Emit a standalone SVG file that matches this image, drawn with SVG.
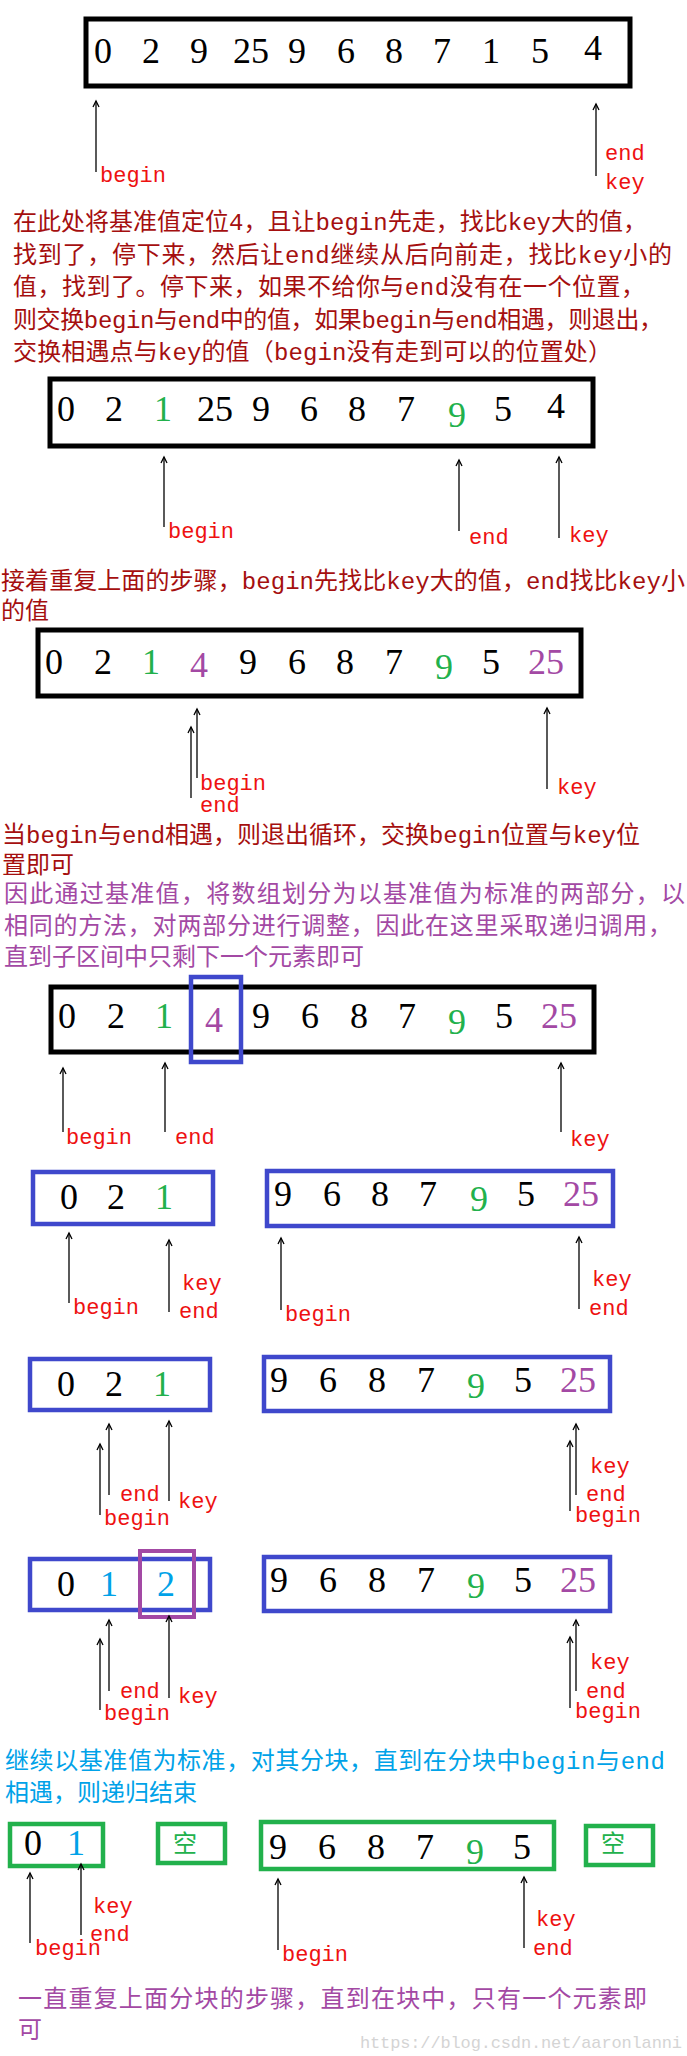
<svg xmlns="http://www.w3.org/2000/svg" width="687" height="2056" viewBox="0 0 687 2056">
<style>
.n{font-family:"Liberation Serif",serif;font-size:36px;text-anchor:middle;fill:#000}
.g{fill:#22b14c}.p{fill:#a349a4}.c{fill:#00a2e8}
.l{font-family:"Liberation Mono",monospace;font-size:22px;fill:#ee1111}
.t{font-family:"Liberation Mono","Noto Sans CJK SC",sans-serif;font-size:24px}
.dr{fill:#a50f0f}.pt{fill:#a349a4}.ct{fill:#00a2e8}
.bk{fill:#fff;stroke:#000;stroke-width:5}
.bl{fill:none;stroke:#3f48cc;stroke-width:4.5}
.gr{fill:none;stroke:#22b14c;stroke-width:4.5}
.pr{fill:none;stroke:#a349a4;stroke-width:4}
.a{stroke:#000;stroke-width:1.3;fill:none;marker-end:url(#h)}
</style>
<defs><marker id="h" markerUnits="userSpaceOnUse" markerWidth="12" markerHeight="12" refX="10" refY="6" orient="auto" viewBox="0 0 12 12"><path d="M4,3 L10,6 L4,9" fill="none" stroke="#000" stroke-width="1.3"/></marker></defs>
<rect width="687" height="2056" fill="#fff"/>

<g id="row1">
<rect class="bk" x="86" y="19" width="544" height="67"/>
<text class="n" y="63"><tspan x="103">0</tspan><tspan x="151">2</tspan><tspan x="199">9</tspan><tspan x="251">25</tspan><tspan x="297">9</tspan><tspan x="346">6</tspan><tspan x="394">8</tspan><tspan x="442">7</tspan><tspan x="491">1</tspan><tspan x="540">5</tspan><tspan x="593" y="60">4</tspan></text>
<text class="l" x="100" y="182">begin</text>
<text class="l" x="605" y="160">end</text>
<text class="l" x="605" y="189">key</text>
</g>
<g id="para1" class="t dr">
<text x="13" y="230" textLength="634">在此处将基准值定位4，且让begin先走，找比key大的值，</text>
<text x="13" y="263" textLength="659">找到了，停下来，然后让end继续从后向前走，找比key小的</text>
<text x="13" y="295" textLength="632">值，找到了。停下来，如果不给你与end没有在一个位置，</text>
<text x="13" y="328" textLength="650">则交换begin与end中的值，如果begin与end相遇，则退出，</text>
<text x="13" y="360" textLength="599">交换相遇点与key的值（begin没有走到可以的位置处）</text>
</g>
<g id="row2">
<rect class="bk" x="50" y="379" width="543" height="67"/>
<text class="n" y="421"><tspan x="66">0</tspan><tspan x="114">2</tspan><tspan class="g" x="163">1</tspan><tspan x="215">25</tspan><tspan x="261">9</tspan><tspan x="309">6</tspan><tspan x="357">8</tspan><tspan x="406">7</tspan><tspan class="g" x="457" y="427">9</tspan><tspan x="503" y="421">5</tspan><tspan x="556" y="418">4</tspan></text>
<text class="l" x="168" y="538">begin</text>
<text class="l" x="469" y="544">end</text>
<text class="l" x="569" y="542">key</text>
</g>
<g id="para2" class="t dr">
<text x="1" y="589" textLength="684">接着重复上面的步骤，begin先找比key大的值，end找比key小</text>
<text x="1" y="619">的值</text>
</g>
<g id="row3">
<rect class="bk" x="38" y="630" width="543" height="66"/>
<text class="n" y="674"><tspan x="54">0</tspan><tspan x="103">2</tspan><tspan class="g" x="151">1</tspan><tspan class="p" x="199" y="677">4</tspan><tspan x="248" y="674">9</tspan><tspan x="297">6</tspan><tspan x="345">8</tspan><tspan x="394">7</tspan><tspan class="g" x="444" y="679">9</tspan><tspan x="491" y="674">5</tspan><tspan class="p" x="546">25</tspan></text>
<text class="l" x="200" y="790">begin</text>
<text class="l" x="200" y="812">end</text>
<text class="l" x="557" y="794">key</text>
</g>
<g id="para3" class="t">
<text class="dr" x="2" y="843" textLength="638">当begin与end相遇，则退出循环，交换begin位置与key位</text>
<text class="dr" x="2" y="873">置即可</text>
<text class="pt" x="4" y="902" textLength="681">因此通过基准值，将数组划分为以基准值为标准的两部分，以</text>
<text class="pt" x="4" y="934" textLength="668">相同的方法，对两部分进行调整，因此在这里采取递归调用，</text>
<text class="pt" x="4" y="965">直到子区间中只剩下一个元素即可</text>
</g>
<g id="row4">
<rect class="bk" x="51" y="987" width="543" height="65"/>
<rect class="bl" x="191" y="977" width="50" height="85"/>
<text class="n" y="1028"><tspan x="67">0</tspan><tspan x="116">2</tspan><tspan class="g" x="164">1</tspan><tspan class="p" x="214" y="1032">4</tspan><tspan x="261" y="1028">9</tspan><tspan x="310">6</tspan><tspan x="359">8</tspan><tspan x="407">7</tspan><tspan class="g" x="457" y="1034">9</tspan><tspan x="504" y="1028">5</tspan><tspan class="p" x="559">25</tspan></text>
<text class="l" x="66" y="1144">begin</text>
<text class="l" x="175" y="1144">end</text>
<text class="l" x="570" y="1146">key</text>
</g>
<g id="row5">
<rect class="bl" x="33" y="1172" width="180" height="52"/>
<text class="n" y="1209"><tspan x="69">0</tspan><tspan x="116">2</tspan><tspan class="g" x="164">1</tspan></text>
<rect class="bl" x="267" y="1171" width="346" height="55"/>
<text class="n" y="1206"><tspan x="283">9</tspan><tspan x="332">6</tspan><tspan x="380">8</tspan><tspan x="428">7</tspan><tspan class="g" x="479" y="1211">9</tspan><tspan x="526" y="1206">5</tspan><tspan class="p" x="581">25</tspan></text>
<text class="l" x="73" y="1314">begin</text>
<text class="l" x="182" y="1290">key</text>
<text class="l" x="179" y="1318">end</text>
<text class="l" x="285" y="1321">begin</text>
<text class="l" x="592" y="1286">key</text>
<text class="l" x="589" y="1315">end</text>
</g>
<g id="row6">
<rect class="bl" x="30" y="1359" width="180" height="51"/>
<text class="n" y="1396"><tspan x="66">0</tspan><tspan x="114">2</tspan><tspan class="g" x="162">1</tspan></text>
<rect class="bl" x="264" y="1357" width="346" height="54"/>
<text class="n" y="1392"><tspan x="279">9</tspan><tspan x="328">6</tspan><tspan x="377">8</tspan><tspan x="426">7</tspan><tspan class="g" x="476" y="1398">9</tspan><tspan x="523" y="1392">5</tspan><tspan class="p" x="578">25</tspan></text>
<text class="l" x="120" y="1501">end</text>
<text class="l" x="104" y="1525">begin</text>
<text class="l" x="178" y="1508">key</text>
<text class="l" x="590" y="1473">key</text>
<text class="l" x="586" y="1501">end</text>
<text class="l" x="575" y="1522">begin</text>
</g>
<g id="row7">
<rect class="bl" x="30" y="1559" width="180" height="51"/>
<rect class="pr" x="140" y="1551" width="54" height="66"/>
<text class="n" y="1596"><tspan x="66">0</tspan><tspan class="c" x="109">1</tspan><tspan class="c" x="166">2</tspan></text>
<rect class="bl" x="264" y="1557" width="346" height="54"/>
<text class="n" y="1592"><tspan x="279">9</tspan><tspan x="328">6</tspan><tspan x="377">8</tspan><tspan x="426">7</tspan><tspan class="g" x="476" y="1598">9</tspan><tspan x="523" y="1592">5</tspan><tspan class="p" x="578">25</tspan></text>
<text class="l" x="120" y="1698">end</text>
<text class="l" x="104" y="1720">begin</text>
<text class="l" x="178" y="1703">key</text>
<text class="l" x="590" y="1669">key</text>
<text class="l" x="586" y="1698">end</text>
<text class="l" x="575" y="1718">begin</text>
</g>
<g id="para4" class="t ct">
<text x="5" y="1769" textLength="660">继续以基准值为标准，对其分块，直到在分块中begin与end</text>
<text x="5" y="1801">相遇，则递归结束</text>
</g>
<g id="row8">
<rect class="gr" x="10" y="1824" width="93" height="42"/>
<text class="n" y="1855"><tspan x="33">0</tspan><tspan class="c" x="76">1</tspan></text>
<rect class="gr" x="158" y="1824" width="67" height="39"/>
<text class="t" x="185" y="1852" fill="#22b14c" text-anchor="middle">空</text>
<rect class="gr" x="261" y="1822" width="293" height="47"/>
<text class="n" y="1859"><tspan x="278">9</tspan><tspan x="327">6</tspan><tspan x="376">8</tspan><tspan x="425">7</tspan><tspan class="g" x="475" y="1864">9</tspan><tspan x="522" y="1859">5</tspan></text>
<rect class="gr" x="586" y="1826" width="67" height="39"/>
<text class="t" x="613" y="1852" fill="#22b14c" text-anchor="middle">空</text>
<text class="l" x="35" y="1955">begin</text>
<text class="l" x="93" y="1913">key</text>
<text class="l" x="90" y="1941">end</text>
<text class="l" x="282" y="1961">begin</text>
<text class="l" x="536" y="1926">key</text>
<text class="l" x="533" y="1955">end</text>
</g>
<g id="para5" class="t pt">
<text x="18" y="2007" textLength="629">一直重复上面分块的步骤，直到在块中，只有一个元素即</text>
<text x="18" y="2038">可</text>
</g>
<text x="360" y="2048" font-family="Liberation Mono,monospace" font-size="17" fill="#d4d4d4" textLength="322">https://blog.csdn.net/aaronlanni</text>

<g id="connectors">
<line class="a" x1="96" y1="172" x2="96" y2="101"/>
<line class="a" x1="596" y1="176" x2="596" y2="104"/>
<line class="a" x1="164" y1="527" x2="164" y2="457"/>
<line class="a" x1="459" y1="531" x2="459" y2="460"/>
<line class="a" x1="559" y1="538" x2="559" y2="457"/>
<line class="a" x1="191" y1="798" x2="191" y2="727"/>
<line class="a" x1="197" y1="778" x2="197" y2="709"/>
<line class="a" x1="547" y1="789" x2="547" y2="708"/>
<line class="a" x1="63" y1="1132" x2="63" y2="1068"/>
<line class="a" x1="165" y1="1132" x2="165" y2="1063"/>
<line class="a" x1="561" y1="1132" x2="561" y2="1063"/>
<line class="a" x1="69" y1="1303" x2="69" y2="1233"/>
<line class="a" x1="169" y1="1312" x2="169" y2="1240"/>
<line class="a" x1="281" y1="1310" x2="281" y2="1238"/>
<line class="a" x1="579" y1="1309" x2="579" y2="1237"/>
<line class="a" x1="100" y1="1515" x2="100" y2="1444"/>
<line class="a" x1="109" y1="1495" x2="109" y2="1424"/>
<line class="a" x1="169" y1="1501" x2="169" y2="1421"/>
<line class="a" x1="570" y1="1511" x2="570" y2="1441"/>
<line class="a" x1="576" y1="1495" x2="576" y2="1424"/>
<line class="a" x1="100" y1="1710" x2="100" y2="1639"/>
<line class="a" x1="109" y1="1691" x2="109" y2="1620"/>
<line class="a" x1="169" y1="1698" x2="169" y2="1616"/>
<line class="a" x1="570" y1="1708" x2="570" y2="1637"/>
<line class="a" x1="576" y1="1691" x2="576" y2="1620"/>
<line class="a" x1="30" y1="1943" x2="30" y2="1873"/>
<line class="a" x1="81" y1="1935" x2="81" y2="1864"/>
<line class="a" x1="278" y1="1950" x2="278" y2="1879"/>
<line class="a" x1="524" y1="1948" x2="524" y2="1877"/>
</g>
</svg>
